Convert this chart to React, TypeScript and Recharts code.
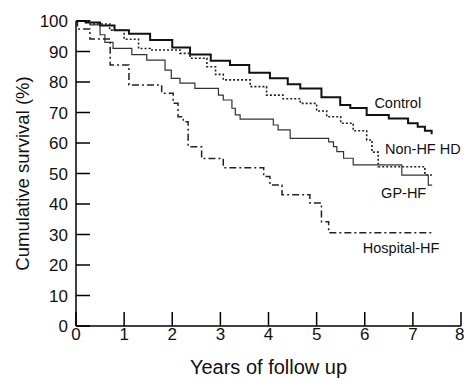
import React from "react";
import {
  LineChart,
  Line,
  XAxis,
  YAxis,
  ReferenceDot,
} from "recharts";

// years of follow up / cumulative survival (%)
const controlT = [0, 0.2, 0.5, 0.8, 1.1, 1.54, 2.0, 2.37, 2.8, 3.2, 3.6, 4.03, 4.4, 4.66, 5.1, 5.49, 5.7, 6.04, 6.5, 6.9, 7.1, 7.25, 7.39];
const controlV = [100, 99.5, 98.5, 97, 95.8, 93.8, 91.3, 89, 87, 85.6, 83, 81.2, 79.3, 77.9, 75, 72.5, 71.5, 69.2, 68, 66.5, 65.3, 64, 62.9];

const nonHfT = [0, 0.3, 0.7, 1.0, 1.3, 1.54, 2.16, 2.37, 2.72, 2.9, 3.06, 3.62, 3.96, 4.3, 4.66, 5.0, 5.21, 5.5, 5.76, 6.04, 6.15, 6.28, 7.22, 7.25, 7.4];
const nonHfV = [100, 99, 97, 94, 91, 90.5, 89.4, 87.8, 85, 82.5, 80.7, 78.5, 75.7, 74.5, 73, 70.5, 68.6, 66.5, 64, 61, 57, 52.2, 52.2, 49.5, 49.5];

const gpHfT = [0, 0.29, 0.5, 0.6, 0.77, 1.16, 1.47, 1.85, 1.98, 2.16, 2.47, 2.96, 3.06, 3.24, 3.31, 3.41, 4.1, 4.2, 4.45, 5.25, 5.35, 5.42, 5.56, 5.76, 6.77, 7.32, 7.4];
const gpHfV = [100, 98.7, 95.5, 93, 91, 89, 87.2, 83.9, 81.2, 79.6, 77.9, 75.7, 74.1, 71.4, 69.2, 67.8, 65.9, 64.3, 61.5, 60.4, 58.8, 57.2, 55, 52.8, 49.5, 46.2, 46.2];

const hospT = [0, 0.03, 0.29, 0.71, 1.1, 1.78, 2.02, 2.12, 2.23, 2.33, 2.61, 3.06, 3.9, 4.03, 4.28, 4.86, 5.1, 5.25, 7.4];
const hospV = [100, 97.4, 94.1, 85.6, 79, 76.3, 73, 68.6, 67, 58.8, 54.9, 51.9, 49, 46.2, 43, 40.3, 34.2, 30.6, 30.6];

const xTicks = [0, 1, 2, 3, 4, 5, 6, 7, 8];
const yTicks = [0, 10, 20, 30, 40, 50, 60, 70, 80, 90, 100];

const seriesNames = ["Control", "Non-HF HD", "GP-HF", "Hospital-HF"];
// where each series name sits, in data units (years, %)
const labelAt = [
  [6.2, 73.3],
  [6.42, 58],
  [6.34, 43.8],
  [5.96, 25.7],
];

const toRows = (t: number[], v: number[]) => t.map((x, i) => ({ t: x, v: v[i] }));

const FONT = "'Liberation Sans', Arial, sans-serif";

export default function App() {
  const control = toRows(controlT, controlV);
  const nonHf = toRows(nonHfT, nonHfV);
  const gpHf = toRows(gpHfT, gpHfV);
  const hosp = toRows(hospT, hospV);

  return (
    <div style={{ width: 464, height: 379 }}>
      <style>{"body{margin:0}"}</style>
      <LineChart
        width={464}
        height={379}
        margin={{ top: 21, right: 3, bottom: 0, left: 16 }}
        style={{ fontFamily: FONT }}
      >
        <XAxis
          dataKey="t"
          type="number"
          domain={[0, 8]}
          ticks={xTicks}
          height={53}
          tickSize={-14}
          tickMargin={16}
          allowDataOverflow
          stroke="#000"
          strokeWidth={1.5}
          tick={{ fill: "#111", fontSize: 17, fontFamily: FONT }}
          label={{
            value: "Years of follow up",
            position: "insideBottom",
            offset: 5,
            fill: "#111",
            fontSize: 20,
            fontFamily: FONT,
          }}
        />
        <YAxis
          dataKey="v"
          type="number"
          domain={[0, 100]}
          ticks={yTicks}
          width={60}
          tickSize={-14}
          tickMargin={22}
          stroke="#000"
          strokeWidth={1.5}
          tick={{ fill: "#111", fontSize: 17, fontFamily: FONT }}
          label={{
            value: "Cumulative survival (%)",
            angle: -90,
            position: "insideLeft",
            offset: 6,
            fill: "#111",
            fontSize: 18.5,
            fontFamily: FONT,
            style: { textAnchor: "middle" },
          }}
        />
        <Line
          data={control}
          dataKey="v"
          type="stepAfter"
          stroke="#111"
          strokeWidth={2}
          dot={false}
          isAnimationActive={false}
        />
        <Line
          data={nonHf}
          dataKey="v"
          type="stepAfter"
          stroke="#222"
          strokeWidth={1.6}
          strokeDasharray="2 2"
          dot={false}
          isAnimationActive={false}
        />
        <Line
          data={gpHf}
          dataKey="v"
          type="stepAfter"
          stroke="#333"
          strokeWidth={1.2}
          dot={false}
          isAnimationActive={false}
        />
        <Line
          data={hosp}
          dataKey="v"
          type="stepAfter"
          stroke="#222"
          strokeWidth={1.5}
          strokeDasharray="7 3 2 3"
          dot={false}
          isAnimationActive={false}
        />
        {seriesNames.map((name, i) => (
          <ReferenceDot
            key={name}
            x={labelAt[i][0]}
            y={labelAt[i][1]}
            r={0}
            ifOverflow="visible"
            fill="none"
            stroke="none"
            label={{
              value: name,
              position: "right",
              offset: 0,
              fill: "#111",
              fontSize: 14.5,
              fontFamily: FONT,
            }}
          />
        ))}
      </LineChart>
    </div>
  );
}
